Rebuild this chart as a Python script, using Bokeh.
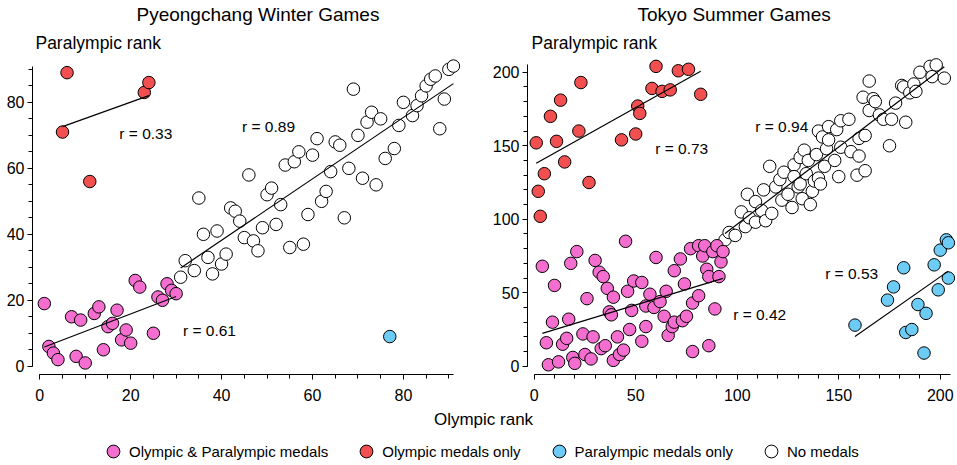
import numpy as np
from bokeh.plotting import figure
from bokeh.layouts import row, column
from bokeh.models import Range1d, SingleIntervalTicker, Label, Legend, LegendItem
from bokeh.embed import file_html
from bokeh.resources import INLINE

# ---------------- data ----------------
# Pyeongchang Winter Games: (Olympic rank, Paralympic rank)
w_both_x = [1, 2, 3, 4, 7, 9, 8, 10, 12, 13, 14, 15, 16, 17, 18, 19, 20, 21, 22, 25, 26, 27, 28, 29, 30]
w_both_y = [19, 6, 4, 2, 15, 14, 3, 1, 16, 18, 5, 12, 13, 17, 8, 11, 7, 26, 24, 10, 21, 20, 25, 23, 22]
w_oly_x = [5, 6, 11, 23, 24]
w_oly_y = [71, 89, 56, 83, 86]
w_para_x = [77]
w_para_y = [9]
w_none_x = [31, 32, 34, 35, 36, 37, 38, 39, 40, 41, 42, 43, 44, 45, 46, 47, 48, 49, 50, 51,
            52, 53, 54, 55, 56, 57, 58, 59, 60, 61, 62, 63, 64, 65, 66, 67, 68, 69, 70, 71,
            72, 73, 74, 75, 76, 78, 79, 80, 82, 83, 84, 85, 86, 87, 88, 89, 90, 91]
w_none_y = [27, 32, 29, 51, 40, 33, 28, 41, 31, 34, 48, 47, 44, 39, 58, 38, 35, 42, 52, 54,
            43, 49, 61, 36, 62, 65, 37, 46, 64, 69, 50, 53, 59, 68, 67, 45, 60, 84, 70, 57,
            74, 77, 55, 75, 63, 66, 73, 80, 76, 79, 82, 85, 87, 88, 72, 81, 90, 91]

# Tokyo Summer Games
s_both_x = [4, 7, 6, 9, 10, 12, 14, 16, 17, 18, 19, 20, 21, 24, 25, 26, 28, 29, 30, 32,
            33, 34, 35, 36, 37, 38, 39, 39, 41, 42, 44, 45, 46, 47, 48, 49, 53, 53, 55, 55,
            57, 59, 60, 62, 64, 65, 66, 68, 69, 69, 72, 73, 74, 75, 77, 78, 78, 81, 81, 83,
            84, 85, 86, 86, 88, 89, 90, 91, 92, 93]
s_both_y = [68, 1, 16, 30, 55, 3, 15, 19, 32, 70, 6, 2, 78, 22, 8, 46, 5, 20, 72, 64,
            12, 61, 14, 53, 37, 35, 47, 4, 20, 8, 11, 85, 51, 25, 38, 58, 57, 17, 41, 27,
            49, 40, 74, 44, 34, 51, 21, 27, 65, 30, 73, 31, 56, 34, 80, 10, 43, 82, 48, 75,
            82, 66, 61, 14, 78, 39, 82, 61, 71, 78]
s_oly_x = [1, 2, 3, 5, 8, 11, 13, 15, 22, 23, 27, 43, 50, 51, 52, 58, 60, 63, 67, 71, 76, 82]
s_oly_y = [152, 119, 102, 131, 170, 153, 181, 139, 160, 193, 125, 154, 158, 177, 172, 189, 204, 187, 188, 201, 202, 185]
s_para_x = [158, 174, 177, 182, 183, 186, 189, 192, 193, 197, 199, 200, 203, 204, 204]
s_para_y = [28, 45, 54, 67, 23, 25, 42, 9, 36, 69, 52, 79, 86, 84, 60]
s_none_x = [94, 96, 99, 102, 104, 105, 106, 109, 109, 112, 113, 114, 116, 117, 119, 121, 122, 123, 125, 127,
            128, 128, 130, 131, 131, 132, 133, 134, 135, 136, 137, 138, 139, 140, 140, 141, 142, 143, 144, 145,
            145, 148, 149, 150, 151, 151, 155, 156, 159, 160, 160, 162, 163, 163, 165, 165, 167, 168, 170, 172,
            175, 176, 178, 181, 182, 183, 185, 187, 188, 190, 195, 196, 198, 202]
s_none_y = [86, 91, 89, 105, 95, 117, 101, 112, 98, 106, 120, 99, 136, 104, 122, 127, 113, 132, 117, 108,
            137, 129, 122, 124, 142, 114, 147, 131, 140, 110, 119, 126, 144, 160, 128, 124, 156, 136, 148, 163,
            154, 140, 161, 129, 167, 149, 168, 146, 130, 155, 143, 183, 133, 157, 194, 174, 182, 180, 171, 168,
            150, 168, 179, 191, 190, 166, 186, 192, 187, 200, 204, 197, 205, 196]

w_r_text = ["r = 0.33", "r = 0.89", "r = 0.61"]
s_r_text = ["r = 0.73", "r = 0.94", "r = 0.42", "r = 0.53"]

legend_labels = ["Olympic & Paralympic medals", "Olympic medals only", "Paralympic medals only", "No medals"]

# ---------------- style ----------------
FONT = "Liberation Sans"
PINK = "#F46ED0"
RED = "#F25050"
BLUE = "#6CCCF5"
WHITE = "#FFFFFF"
COLORS = [PINK, RED, BLUE, WHITE]
MSIZE = 12.5
FRAME_H = 349


def style_axis(ax, standoff):
    ax.axis_line_color = "black"
    ax.axis_line_width = 1
    ax.major_tick_in = 0
    ax.major_tick_out = 5
    ax.minor_tick_in = 0
    ax.minor_tick_out = 4
    ax.major_tick_line_color = "black"
    ax.minor_tick_line_color = "black"
    ax.major_label_text_font = FONT
    ax.major_label_text_font_size = "16px"
    ax.major_label_text_color = "black"
    ax.major_label_standoff = standoff


def make_panel(title, title_offset, groups, r_texts, r_pos, xr, yr, xb, yb,
               x_int, x_minor, y_int, y_minor, frame_w, mbl, mbr, para_pos):
    p = figure(frame_width=frame_w, frame_height=FRAME_H,
               x_range=Range1d(*xr), y_range=Range1d(*yr),
               output_backend="svg", toolbar_location=None,
               min_border_left=mbl, min_border_right=mbr,
               min_border_top=22, min_border_bottom=30)
    p.outline_line_color = None
    p.grid.visible = False
    p.background_fill_color = "white"
    p.title.text = title
    p.title.align = "left"
    p.title.offset = title_offset
    p.title.text_font = FONT
    p.title.text_font_size = "19px"
    p.title.text_font_style = "normal"
    p.title.text_color = "black"
    p.title.standoff = 2

    p.xaxis.ticker = SingleIntervalTicker(interval=x_int, num_minor_ticks=x_minor)
    p.yaxis.ticker = SingleIntervalTicker(interval=y_int, num_minor_ticks=y_minor)
    p.xaxis.bounds = xb
    p.yaxis.bounds = yb
    style_axis(p.xaxis[0], 9)
    style_axis(p.yaxis[0], 3)

    # draw order: no medals, both, olympic only, paralympic only
    order = [3, 0, 1, 2]
    for gi in order:
        gx, gy = groups[gi]
        p.scatter(x=gx, y=gy, size=MSIZE, fill_color=COLORS[gi],
                  line_color="black", line_width=1)
    # regression lines (least squares over each group's own x span)
    for gi in order:
        gx, gy = groups[gi]
        if len(gx) < 3:
            continue
        gx_a = np.asarray(gx, dtype=float)
        gy_a = np.asarray(gy, dtype=float)
        k, b = np.polyfit(gx_a, gy_a, 1)
        lx = [gx_a.min(), gx_a.max()]
        ly = [k * lx[0] + b, k * lx[1] + b]
        p.line(lx, ly, line_color="black", line_width=1.2)

    for t, (tx, ty) in zip(r_texts, r_pos):
        p.add_layout(Label(x=tx, y=ty, text=t, text_align="left", text_baseline="middle",
                           text_font=FONT, text_font_size="15.5px", text_color="black"))
    p.add_layout(Label(x=para_pos[0], y=para_pos[1], text="Paralympic rank",
                       text_align="left", text_baseline="middle",
                       text_font=FONT, text_font_size="17.5px", text_color="black"))
    return p


p1 = make_panel("Pyeongchang Winter Games", 104,
                [(w_both_x, w_both_y), (w_oly_x, w_oly_y), (w_para_x, w_para_y), (w_none_x, w_none_y)],
                w_r_text, [(17.5, 70.5), (44.5, 72.6), (31.5, 10.9)],
                (-1.6, 93.0), (-2.5, 103.3), (0, 91), (0, 91),
                20, 4, 20, 4, 430, 32, 27, (-0.95, 98.1))

p2 = make_panel("Tokyo Summer Games", 110,
                [(s_both_x, s_both_y), (s_oly_x, s_oly_y), (s_para_x, s_para_y), (s_none_x, s_none_y)],
                s_r_text, [(59.6, 148.1), (108.9, 162.9), (98.0, 35.2), (143.3, 63.1)],
                (-3.3, 208.0), (-5.6, 231.8), (0, 205), (0, 205),
                50, 5, 50, 5, 429, 36, 3, (-1.3, 220.2))

# bottom strip: shared x label + legend
STRIP_W = 957
STRIP_H = 63
p3 = figure(width=STRIP_W, height=STRIP_H, x_range=Range1d(0, STRIP_W), y_range=Range1d(0, STRIP_H),
            output_backend="svg", toolbar_location=None, min_border=0,
            x_axis_type=None, y_axis_type=None)
p3.outline_line_color = None
p3.grid.visible = False
items = []
for lab, col in zip(legend_labels, COLORS):
    # legend swatch renderer: a single point kept outside the visible strip
    r = p3.scatter(x=[-1000], y=[-1000], size=MSIZE, fill_color=col, line_color="black", line_width=1)
    items.append(LegendItem(label=lab, renderers=[r]))
leg = Legend(items=items, orientation="horizontal", location=(97, 0),
             glyph_width=32, glyph_height=32, label_standoff=0, spacing=22,
             padding=0, margin=0, border_line_color=None, background_fill_alpha=0,
             label_text_font=FONT, label_text_font_size="15px", label_text_color="black")
p3.add_layout(leg, "center")
p3.add_layout(Label(x=483, y=48, text="Olympic rank", text_align="center", text_baseline="middle",
                    text_font=FONT, text_font_size="17px", text_color="black"))

layout = column(row(p1, p2), p3)
open("out.html", "w").write(file_html(layout, INLINE))
